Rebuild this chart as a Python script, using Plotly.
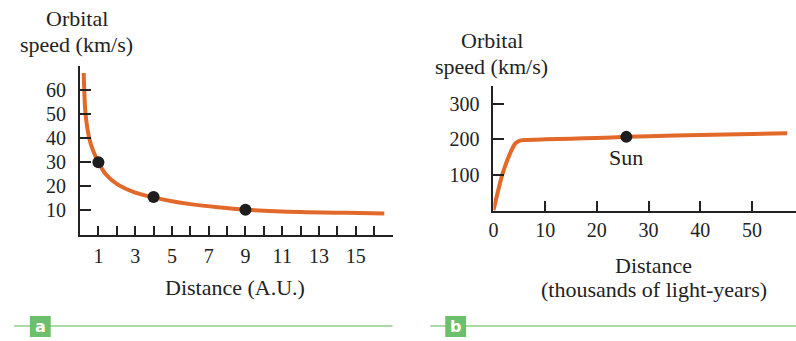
import plotly.graph_objects as go

# Panel a: Keplerian rotation (solar system)
dist_au = [0.2, 0.3, 0.5, 0.7, 1.0, 1.4, 2.0, 3.0, 4.0, 5.0, 6.0, 7.5, 9.0, 12.0, 14.5, 16.55]
speed_au = [67, 50, 40, 35, 30, 25, 21, 17.4, 15.4, 13.8, 12.6, 11.3, 10.3, 9.3, 9.0, 8.75]
planet_x = [1, 4, 9]
planet_y = [30, 15.6, 10.3]
xticks_a = list(range(1, 17))
xlabels_a = [str(v) if v % 2 == 1 else "" for v in xticks_a]
yticks_a = [10, 20, 30, 40, 50, 60]

# Panel b: Milky Way rotation curve
dist_kly = [0, 1.7, 3.2, 4.2, 5.0, 6.0, 10, 15, 20, 25.7, 30, 40, 50, 56.8]
speed_kly = [0, 100, 160, 188, 196, 198, 200, 202, 204, 207, 209, 212, 215, 217]
sun_x = [25.7]
sun_y = [207]
xticks_b = [0, 10, 20, 30, 40, 50]
yticks_b = [100, 200, 300]

ORANGE = "#E2692A"
DOT = "#1e1e1e"
FONT = "Liberation Serif"
GREEN_LINE = "#A9DBA4"
GREEN_BOX = "#6CC06B"

W, H = 796, 341
def px(x): return x / W
def py(y): return 1 - y / H

fig = go.Figure()
fig.add_trace(go.Scatter(x=dist_au, y=speed_au, mode="lines", line=dict(color=ORANGE, width=4, shape="spline", smoothing=0.8),
                         xaxis="x", yaxis="y", hoverinfo="skip"))
fig.add_trace(go.Scatter(x=planet_x, y=planet_y, mode="markers", marker=dict(color=DOT, size=12),
                         xaxis="x", yaxis="y"))
fig.add_trace(go.Scatter(x=dist_kly, y=speed_kly, mode="lines", line=dict(color=ORANGE, width=4, shape="spline", smoothing=0.6),
                         xaxis="x2", yaxis="y2", hoverinfo="skip"))
fig.add_trace(go.Scatter(x=sun_x, y=sun_y, mode="markers", marker=dict(color=DOT, size=12),
                         xaxis="x2", yaxis="y2"))

axis_common = dict(showline=True, linecolor="#222", linewidth=2, showgrid=False, zeroline=False,
                   ticks="inside", tickcolor="#222", tickwidth=1.5,
                   tickfont=dict(family=FONT, size=20, color="#222"))

fig.update_layout(
    width=W, height=H, margin=dict(l=0, r=0, t=0, b=0),
    paper_bgcolor="white", plot_bgcolor="white", showlegend=False,
    xaxis=dict(domain=[px(75.5), px(390)], range=[0, 17.0], tickvals=xticks_a, ticktext=xlabels_a,
               ticklen=9, anchor="y", ticklabelstandoff=2, **axis_common),
    yaxis=dict(domain=[py(234.5), py(65.8)], range=[0, 70], tickvals=yticks_a, ticklen=11, anchor="x",
               ticklabelstandoff=8, **axis_common),
    xaxis2=dict(domain=[px(491.5), 1.0], range=[0, 58.5], tickvals=xticks_b, ticklen=10, anchor="y2",
                ticklabelstandoff=0, **axis_common),
    yaxis2=dict(domain=[py(210.5), py(86)], range=[0, 350], tickvals=yticks_b, ticklen=11, anchor="x2",
                ticklabelstandoff=8, **axis_common),
)

ann_font = dict(family=FONT, size=22, color="#222")
def pa(text, x, y, font=ann_font):
    return dict(text=text, x=px(x), y=py(y), xref="paper", yref="paper", showarrow=False,
                xanchor="center", yanchor="middle", font=font, align="center")

box_font = dict(family="DejaVu Sans", size=16, color="white")
annotations = [
    pa("Orbital", 72, 19),
    pa("speed (km/s)", 72, 44),
    pa("Distance (A.U.)", 231, 287),
    pa("Orbital", 490, 40),
    pa("speed (km/s)", 490, 66),
    pa("Distance", 653, 265),
    pa("(thousands of light-years)", 653, 289),
    dict(text="Sun", x=25.7, y=207, xref="x2", yref="y2", showarrow=False, yshift=-21, font=ann_font,
         xanchor="center", yanchor="middle"),
    pa("<b>a</b>", 35.5, 326, box_font),
    pa("<b>b</b>", 453.5, 326, box_font),
]
fig.update_layout(annotations=annotations)

shapes = [
    dict(type="line", xref="paper", yref="paper", x0=px(9), x1=px(390), y0=py(326), y1=py(326),
         line=dict(color=GREEN_LINE, width=2), layer="below"),
    dict(type="line", xref="paper", yref="paper", x0=px(428), x1=1.0, y0=py(326), y1=py(326),
         line=dict(color=GREEN_LINE, width=2), layer="below"),
    dict(type="rect", xref="paper", yref="paper", x0=px(25), x1=px(46), y0=py(337), y1=py(316),
         fillcolor=GREEN_BOX, line=dict(width=0), layer="below"),
    dict(type="rect", xref="paper", yref="paper", x0=px(443), x1=px(464), y0=py(337), y1=py(316),
         fillcolor=GREEN_BOX, line=dict(width=0), layer="below"),
]
fig.update_layout(shapes=shapes)

fig.write_html("out.html", config={"displayModeBar": False},
               post_script="document.body.style.margin='0px';document.body.style.overflow='hidden';")
